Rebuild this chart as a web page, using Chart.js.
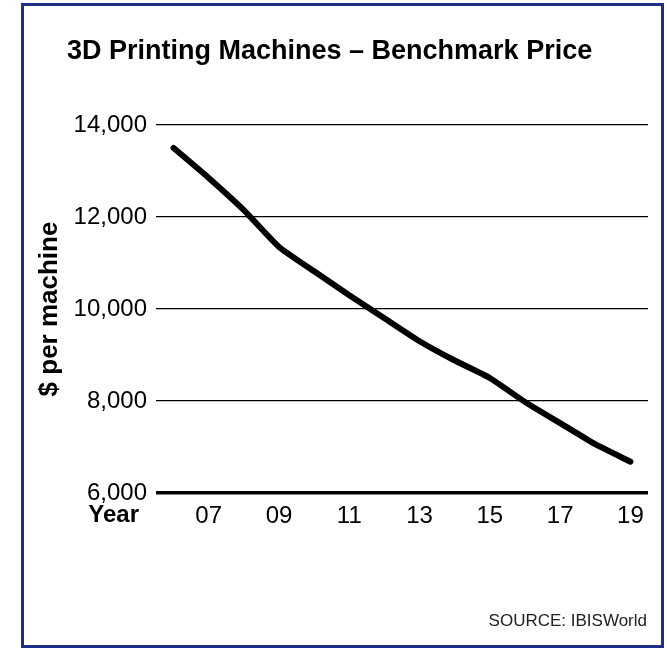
<!DOCTYPE html>
<html lang="en">
<head>
    <meta charset="UTF-8">
    <title>3D Printing Machines – Benchmark Price</title>
    <script src="https://cdn.jsdelivr.net/npm/chart.js"></script>
    <style>
        body { margin: 0; background: #fff; }
        #wrap { position: relative; width: 667px; height: 649px; }
        #frame {
            position: absolute;
            left: 21px;
            top: 3px;
            width: 643px;
            height: 645px;
            box-sizing: border-box;
            border: 3px solid #1f2f86;
            pointer-events: none;
        }
    </style>
</head>
<body>
    <div id="wrap">
        <canvas id="chart" width="667" height="649"></canvas>
        <div id="frame"></div>
    </div>

    <script>
        const years = ['2006', '2007', '2008', '2009', '2010', '2011', '2012',
                       '2013', '2014', '2015', '2016', '2017', '2018', '2019'];
        const prices = [13500, 12850, 12150, 11350, 10820, 10300, 9800,
                        9300, 8880, 8500, 7980, 7520, 7060, 6680];
        const yTicks = [6000, 8000, 10000, 12000, 14000];

        const titleText = '3D Printing Machines – Benchmark Price';
        const sourceText = 'SOURCE: IBISWorld';
        const fontName = '"Liberation Sans", Arial, sans-serif';

        // title, "Year" and source line sit outside the axes
        const extraText = {
            id: 'extraText',
            afterDraw(chart) {
                const ctx = chart.ctx;
                ctx.save();
                ctx.fillStyle = '#000';
                ctx.textBaseline = 'alphabetic';

                ctx.font = 'bold 27px ' + fontName;
                ctx.textAlign = 'left';
                ctx.fillText(titleText, 67, 59);

                ctx.font = 'bold 24px ' + fontName;
                ctx.textAlign = 'right';
                ctx.fillText('Year', 139, 522);

                ctx.font = '17px ' + fontName;
                ctx.fillStyle = '#222';
                ctx.fillText(sourceText, 647, 626);
                ctx.restore();
            }
        };

        new Chart(document.getElementById('chart'), {
            type: 'line',
            data: {
                labels: years,
                datasets: [{
                    data: prices,
                    borderColor: '#000',
                    borderWidth: 6,
                    borderCapStyle: 'round',
                    borderJoinStyle: 'round',
                    tension: 0.15,
                    pointRadius: 0,
                    fill: false
                }]
            },
            options: {
                responsive: false,
                animation: false,
                devicePixelRatio: 1,
                layout: {
                    padding: { left: 30, right: 19, top: 125, bottom: 0 }
                },
                plugins: {
                    legend: { display: false },
                    tooltip: { enabled: false }
                },
                scales: {
                    x: {
                        offset: true,
                        grid: { display: false, drawTicks: false },
                        border: { display: false },
                        afterFit(scale) { scale.height = 156; },
                        ticks: {
                            autoSkip: false,
                            maxRotation: 0,
                            padding: 9,
                            color: '#000',
                            font: { family: fontName, size: 24 },
                            callback(value, index) {
                                return index % 2 === 1 ? years[index].slice(2) : '';
                            }
                        }
                    },
                    y: {
                        min: 6000,
                        max: 14000,
                        afterFit(scale) { scale.width = 126; },
                        afterBuildTicks(scale) {
                            scale.ticks = yTicks.map(v => ({ value: v }));
                        },
                        grid: {
                            drawTicks: false,
                            color: '#000',
                            lineWidth: ctx => ctx.tick && ctx.tick.value === 6000 ? 3.5 : 1.3
                        },
                        border: { display: false },
                        ticks: {
                            padding: 9,
                            color: '#000',
                            font: { family: fontName, size: 24 },
                            callback: value => value.toLocaleString('en-US')
                        },
                        title: {
                            display: true,
                            text: '$ per machine',
                            color: '#000',
                            padding: { top: 4, bottom: 0 },
                            font: { family: fontName, size: 26, weight: 'bold' }
                        }
                    }
                }
            },
            plugins: [extraText]
        });
    </script>
</body>
</html>
